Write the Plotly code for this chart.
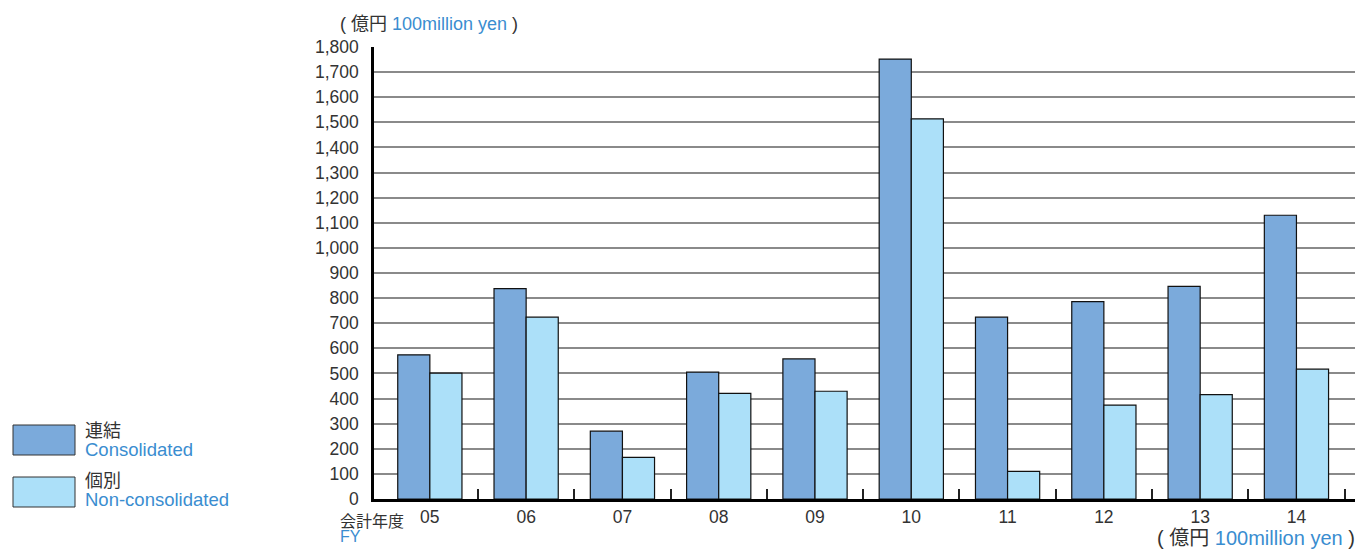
import plotly.graph_objects as go

# ---- data ----
years = ["05", "06", "07", "08", "09", "10", "11", "12", "13", "14"]
consolidated = [574, 838, 270, 505, 558, 1752, 724, 786, 847, 1130]
non_consolidated = [501, 724, 166, 421, 429, 1514, 110, 374, 416, 517]
y_ticks = list(range(0, 1801, 100))
y_tick_text = [f"{v:,}" for v in y_ticks]

# ---- style ----
OFF = 8  # page body margin
W, H = 1363 - OFF, 551 - OFF
ML, MR, MT, MB = 374 - OFF, 3, 47 - OFF, 52
PW, PH = W - ML - MR, H - MT - MB
C_CONS = "#7BAADB"
C_NON = "#ACE0F9"
BLUE = "#3A8DD0"
DARK = "#333333"
FONT = "Liberation Sans, Arial, Noto Sans CJK JP, sans-serif"


def px(x):
    return (x - OFF - ML) / PW


def py(y):
    return 1 - (y - OFF - MT) / PH


xpos = list(range(len(years)))

fig = go.Figure()
fig.add_trace(go.Bar(x=xpos, y=consolidated, name="連結",
                     marker=dict(color=C_CONS, line=dict(color="#111", width=1.2))))
fig.add_trace(go.Bar(x=xpos, y=non_consolidated, name="個別",
                     marker=dict(color=C_NON, line=dict(color="#111", width=1.2))))

shapes = []
annotations = []

# legend boxes
for (y0, y1, col) in [(425, 455, C_CONS), (477, 507, C_NON)]:
    shapes.append(dict(type="rect", xref="paper", yref="paper",
                       x0=px(13), x1=px(75), y0=py(y1), y1=py(y0),
                       fillcolor=col, line=dict(color="#333", width=1)))


def ann(text, x, y, size, color=DARK, xanchor="left"):
    annotations.append(dict(text=text, xref="paper", yref="paper", x=px(x), y=py(y),
                            xanchor=xanchor, yanchor="middle", showarrow=False,
                            borderpad=0,
                            font=dict(size=size, color=color, family=FONT)))


ann("連結", 84, 431, 18)
ann("Consolidated", 84, 449, 18.5, BLUE)
ann("個別", 84, 481, 18)
ann("Non-consolidated", 84, 499, 18.5, BLUE)

unit = f"( 億円 <span style='color:{BLUE}'>100million yen</span> )"
ann(unit, 339, 24, 18)
ann(unit, 1356, 538, 20, xanchor="right")
ann("会計年度", 339, 521, 16)
ann("FY", 339, 536, 16, BLUE)

fig.update_layout(
    width=W, height=H,
    margin=dict(l=ML, r=MR, t=MT, b=MB),
    paper_bgcolor="white", plot_bgcolor="white",
    barmode="group", bargap=0.333, bargroupgap=0,
    showlegend=False,
    font=dict(family=FONT, color=DARK, size=17),
    shapes=shapes, annotations=annotations,
)
fig.update_xaxes(
    range=[-0.58, 9.66],
    tickvals=xpos, ticktext=years, ticks="",
    minor=dict(tickvals=[i + 0.5 for i in xpos], ticks="inside", ticklen=10,
               tickwidth=1.5, tickcolor="#222", showgrid=False),
    showline=True, linecolor="black", linewidth=2.5,
    showgrid=False, zeroline=False, tickfont=dict(size=17.5, color=DARK),
)
fig.update_yaxes(
    range=[0, 1800], tickvals=y_ticks, ticktext=y_tick_text,
    showline=True, linecolor="black", linewidth=2.5,
    showgrid=True, gridcolor="#8a8a8a", gridwidth=1.5,
    ticks="", ticklabelstandoff=9, tickfont=dict(size=17.5, color=DARK),
    zeroline=False,
)

fig.write_html("out.html")
